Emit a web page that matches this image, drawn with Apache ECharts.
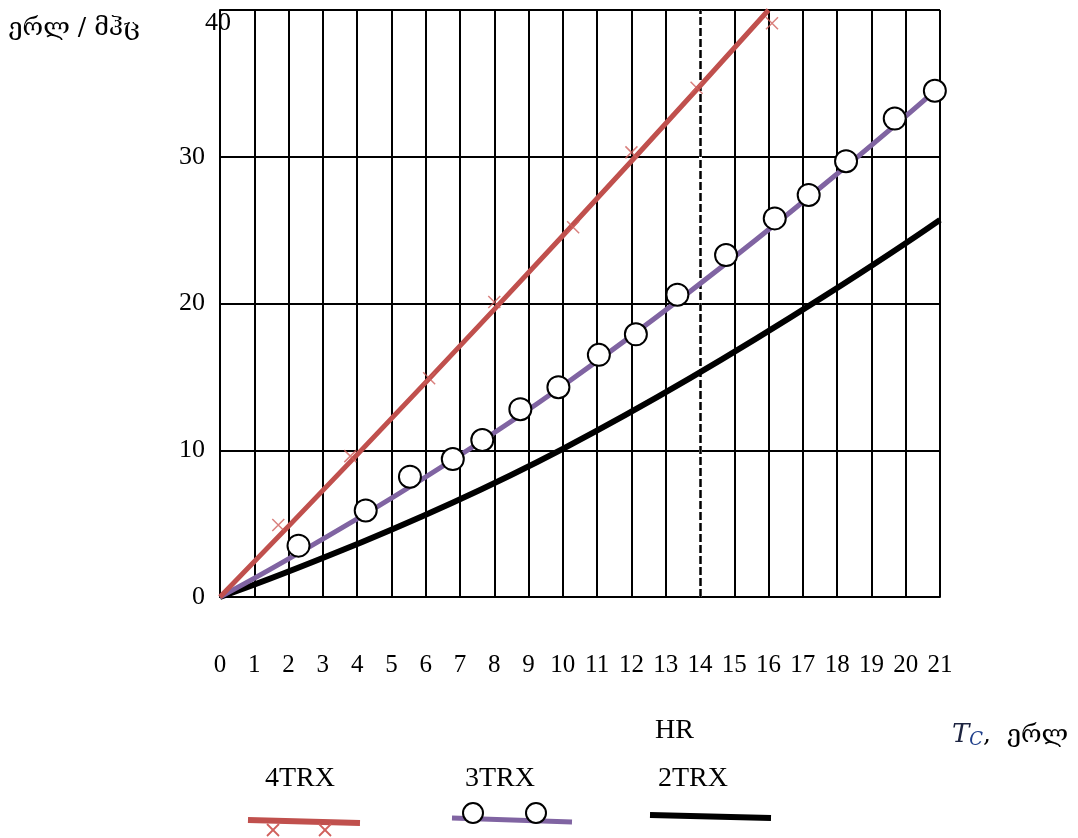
<!DOCTYPE html>
<html>
<head>
<meta charset="utf-8">
<script src="https://cdn.jsdelivr.net/npm/echarts@6/dist/echarts.min.js"></script>
<style>
html,body{margin:0;padding:0;background:#fff;}
#chart{width:1078px;height:838px;}
</style>
</head>
<body>
<div id="chart"></div>
<script>
// ---- data ----
var xTicks = [0,1,2,3,4,5,6,7,8,9,10,11,12,13,14,15,16,17,18,19,20,21];
var yTicks = [0,10,20,30,40];

// 4TRX line (anchor readings)
var red4X = [0,8,16];
var red4Y = [0,19.6,40];
// 4TRX cross markers
var red4MarkX = [1.7,3.8,6.1,8.0,10.3,12.0,13.9,16.1];
var red4MarkY = [4.9,9.6,14.9,20.1,25.2,30.3,34.7,39.1];

// 3TRX line (anchor readings)
var pur3X = [0,10,21];
var pur3Y = [0,14.4,34.8];
// 3TRX circle markers
var pur3MarkX = [2.29,4.25,5.54,6.79,7.65,8.76,9.87,11.05,12.13,13.34,14.76,16.18,17.17,18.26,19.68,20.85];
var pur3MarkY = [3.5,5.9,8.2,9.4,10.7,12.8,14.3,16.5,17.9,20.6,23.3,25.8,27.4,29.7,32.6,34.5];

// HR / 2TRX line (anchor readings)
var blk2X = [0,10,21];
var blk2Y = [0,10.1,25.7];

var dashedX = 14;

var legendNames = ['4TRX','3TRX','2TRX'];
var yName = 'ერლ / მჰც';
var xNameUnit = 'ერლ';

function zip(a,b){return a.map(function(v,i){return [v,b[i]];});}

var RED = '#C0504D', PURPLE = '#8064A2', BLACK = '#000000';
var serif = '"Liberation Serif", "DejaVu Serif", serif';
var geo = '"DejaVu Serif", "DejaVu Sans", serif';

var chart = echarts.init(document.getElementById('chart'), null, {renderer:'canvas'});
var option = {
  animation:false,
  backgroundColor:'#fff',
  grid:{left:220, top:10, right:138, bottom:241, show:false},
  xAxis:{
    type:'value', min:0, max:21, interval:1,
    axisLine:{show:true, lineStyle:{color:'#000', width:2}},
    axisTick:{show:false},
    splitLine:{show:true, lineStyle:{color:'#000', width:2}},
    axisLabel:{margin:56, fontFamily:serif, fontSize:25, color:'#000',
      formatter:function(v){return xTicks.indexOf(v)>=0 ? String(v) : '';}},
    name:'{t|T}{c|C}{u|,  ' + xNameUnit + '}',
    nameLocation:'end', nameGap:12,
    nameTextStyle:{verticalAlign:'top', align:'left', padding:[124,0,0,0],
      rich:{
        t:{fontFamily:'"DejaVu Serif", serif', fontStyle:'italic', fontSize:26, color:'#1d2440'},
        c:{fontFamily:'"DejaVu Serif", serif', fontStyle:'italic', fontSize:18, color:'#1f3f8a', padding:[10,0,0,0]},
        u:{fontFamily:geo, fontSize:25, color:'#000'}
      }}
  },
  yAxis:{
    type:'value', min:0, max:40, interval:10,
    axisLine:{show:true, lineStyle:{color:'#000', width:2}},
    axisTick:{show:false},
    splitLine:{show:true, lineStyle:{color:'#000', width:2}},
    axisLabel:{margin:15, fontFamily:serif, fontSize:26, color:'#000',
      formatter:function(v){ return v===40 ? '{top|40}' : String(v); },
      rich:{top:{fontFamily:serif, fontSize:26, color:'#000', padding:[26,-26,0,0]}}},
    name:yName, nameLocation:'end', nameGap:0,
    nameTextStyle:{fontFamily:geo, fontSize:25, color:'#000', align:'right', verticalAlign:'top', padding:[6,80,0,0]}
  },
  series:[
    { // white gap under the dashed line
      type:'line', data:[], silent:true, z:3,
      markLine:{symbol:'none', silent:true, label:{show:false},
        lineStyle:{color:'#fff', width:3, type:'solid'}, data:[{xAxis:dashedX}]}
    },
    {
      type:'line', data:[], silent:true, z:4,
      markLine:{symbol:'none', silent:true, label:{show:false},
        lineStyle:{color:'#000', width:2.5, type:[8,3]}, data:[{xAxis:dashedX}]}
    },
    {
      name:legendNames[2], type:'line', data:zip(blk2X,blk2Y), showSymbol:false, z:5, smooth:true,
      lineStyle:{color:BLACK, width:6}, itemStyle:{color:BLACK}
    },
    {
      name:legendNames[1], type:'line', data:zip(pur3X,pur3Y), showSymbol:false, z:6, smooth:true,
      lineStyle:{color:PURPLE, width:5}, itemStyle:{color:PURPLE}
    },
    {
      name:legendNames[0], type:'line', data:zip(red4X,red4Y), showSymbol:false, z:6, smooth:true,
      lineStyle:{color:RED, width:5}, itemStyle:{color:RED}
    },
    {
      type:'scatter', data:zip(red4MarkX,red4MarkY), z:7,
      symbol:'path://M0,0L10,10M10,0L0,10', symbolSize:12,
      itemStyle:{color:'transparent', borderColor:'#D0605C', borderWidth:1.5}
    },
    {
      type:'scatter', data:zip(pur3MarkX,pur3MarkY), z:8,
      symbol:'circle', symbolSize:22,
      itemStyle:{color:'#fff', borderColor:'#000', borderWidth:2, opacity:1}
    }
  ],
  graphic:[
    // legend texts
    {type:'text', x:265, y:765, style:{text:legendNames[0], font:'28px '+serif, fill:'#000'}},
    {type:'text', x:465, y:765, style:{text:legendNames[1], font:'28px '+serif, fill:'#000'}},
    {type:'text', x:658, y:765, style:{text:legendNames[2], font:'28px '+serif, fill:'#000'}},
    {type:'text', x:655, y:717, style:{text:'HR', font:'28px '+serif, fill:'#000'}},
    // legend samples
    {type:'line', shape:{x1:248,y1:820,x2:360,y2:823}, style:{stroke:RED, lineWidth:6}},
    {type:'line', shape:{x1:267,y1:824,x2:279,y2:836}, style:{stroke:'#D0605C', lineWidth:1.8}},
    {type:'line', shape:{x1:279,y1:824,x2:267,y2:836}, style:{stroke:'#D0605C', lineWidth:1.8}},
    {type:'line', shape:{x1:319,y1:824,x2:331,y2:836}, style:{stroke:'#D0605C', lineWidth:1.8}},
    {type:'line', shape:{x1:331,y1:824,x2:319,y2:836}, style:{stroke:'#D0605C', lineWidth:1.8}},
    {type:'line', shape:{x1:452,y1:818,x2:572,y2:822}, style:{stroke:PURPLE, lineWidth:5}},
    {type:'circle', shape:{cx:473,cy:813,r:10}, style:{fill:'#fff', stroke:'#000', lineWidth:2}},
    {type:'circle', shape:{cx:536,cy:813,r:10}, style:{fill:'#fff', stroke:'#000', lineWidth:2}},
    {type:'line', shape:{x1:650,y1:815,x2:771,y2:818}, style:{stroke:BLACK, lineWidth:6}}
  ]
};
chart.setOption(option);
</script>
</body>
</html>
